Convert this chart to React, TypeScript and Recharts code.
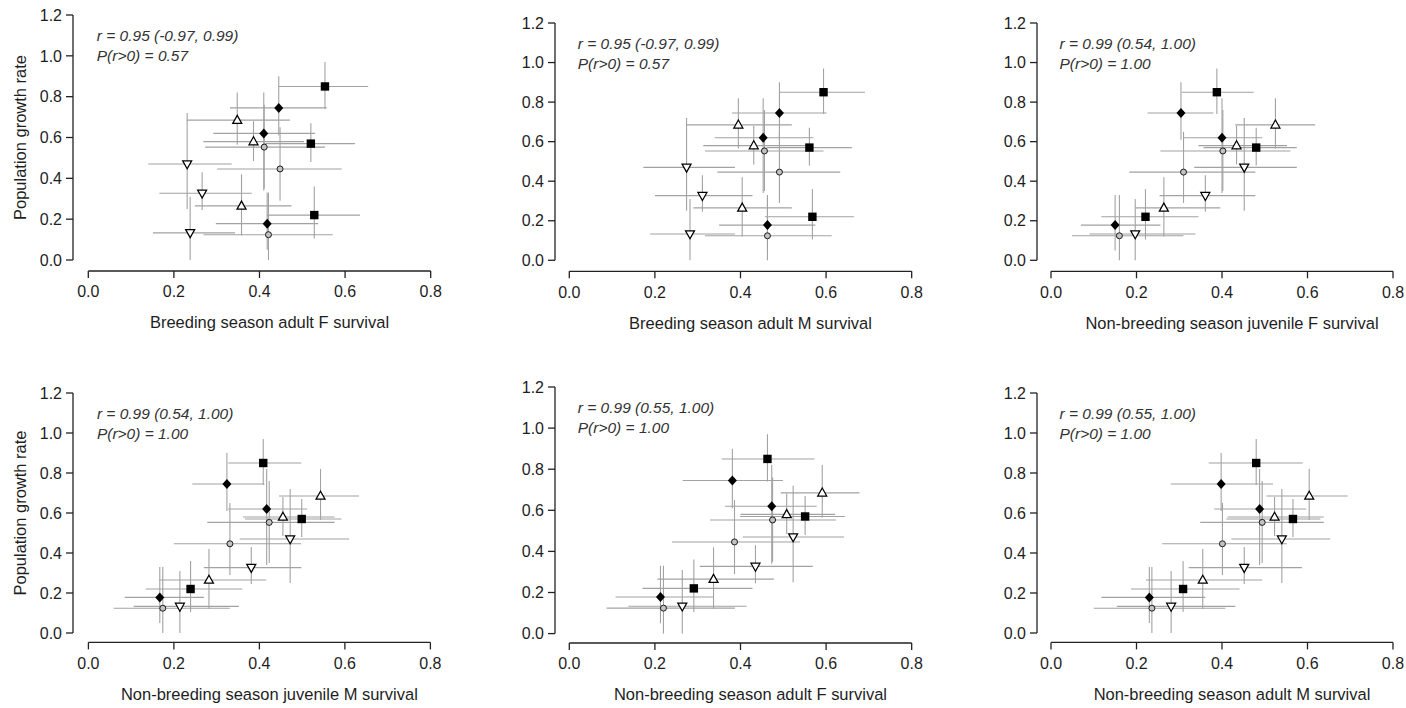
import React from "react";
import { ScatterChart, Scatter, XAxis, YAxis, ErrorBar, ReferenceLine, Label } from "recharts";

// Axis ticks
const xTicks = [0, 0.2, 0.4, 0.6, 0.8];
const yTicks = [0, 0.2, 0.4, 0.6, 0.8, 1.0, 1.2];

// Marker used for each group of three points (points are listed group by group)
const markerKinds = ["square", "diamond", "triangleUp", "triangleDown", "circle"];
const pointsPerGroup = 3;

// Population growth rate with credible interval (same for every panel)
const growthRate = [0.85, 0.57, 0.22, 0.745, 0.62, 0.178, 0.685, 0.58, 0.265, 0.47, 0.327, 0.133, 0.553, 0.446, 0.124];
const growthLow = [0.74, 0.48, 0.105, 0.61, 0.34, 0.05, 0.565, 0.485, 0.12, 0.25, 0.245, 0.0, 0.35, 0.29, 0.0];
const growthHigh = [0.97, 0.67, 0.36, 0.9, 0.82, 0.33, 0.82, 0.68, 0.42, 0.72, 0.43, 0.31, 0.76, 0.65, 0.33];

// Survival estimates with credible intervals, one set per panel
const breedAdultF = [0.553, 0.52, 0.528, 0.445, 0.41, 0.418, 0.348, 0.386, 0.358, 0.231, 0.266, 0.238, 0.411, 0.448, 0.421];
const breedAdultFLow = [0.444, 0.413, 0.417, 0.331, 0.292, 0.298, 0.23, 0.269, 0.249, 0.14, 0.166, 0.151, 0.273, 0.301, 0.269];
const breedAdultFHigh = [0.654, 0.623, 0.635, 0.557, 0.53, 0.537, 0.471, 0.504, 0.475, 0.335, 0.382, 0.343, 0.553, 0.592, 0.571];

const breedAdultM = [0.594, 0.561, 0.568, 0.491, 0.453, 0.463, 0.395, 0.431, 0.404, 0.274, 0.311, 0.282, 0.456, 0.491, 0.463];
const breedAdultMLow = [0.491, 0.461, 0.457, 0.38, 0.34, 0.35, 0.274, 0.313, 0.29, 0.173, 0.2, 0.189, 0.317, 0.346, 0.317];
const breedAdultMHigh = [0.691, 0.66, 0.665, 0.601, 0.57, 0.575, 0.52, 0.551, 0.52, 0.387, 0.428, 0.387, 0.594, 0.633, 0.613];

const nonBreedJuvF = [0.388, 0.48, 0.221, 0.304, 0.4, 0.15, 0.525, 0.434, 0.264, 0.452, 0.361, 0.197, 0.402, 0.31, 0.16];
const nonBreedJuvFLow = [0.306, 0.357, 0.118, 0.226, 0.31, 0.07, 0.431, 0.345, 0.197, 0.335, 0.254, 0.09, 0.256, 0.183, 0.049];
const nonBreedJuvFHigh = [0.474, 0.575, 0.345, 0.38, 0.494, 0.256, 0.618, 0.552, 0.396, 0.575, 0.478, 0.338, 0.56, 0.478, 0.31];

const nonBreedJuvM = [0.409, 0.499, 0.239, 0.324, 0.417, 0.167, 0.543, 0.455, 0.282, 0.472, 0.381, 0.214, 0.423, 0.331, 0.174];
const nonBreedJuvMLow = [0.327, 0.366, 0.134, 0.243, 0.327, 0.085, 0.446, 0.362, 0.165, 0.354, 0.27, 0.106, 0.278, 0.2, 0.059];
const nonBreedJuvMHigh = [0.498, 0.592, 0.36, 0.412, 0.512, 0.27, 0.633, 0.576, 0.416, 0.61, 0.498, 0.352, 0.576, 0.498, 0.331];

const nonBreedAdultF = [0.463, 0.551, 0.291, 0.381, 0.473, 0.213, 0.591, 0.508, 0.337, 0.523, 0.435, 0.264, 0.475, 0.386, 0.22];
const nonBreedAdultFLow = [0.356, 0.399, 0.171, 0.265, 0.364, 0.108, 0.494, 0.4, 0.206, 0.405, 0.305, 0.138, 0.329, 0.24, 0.087];
const nonBreedAdultFHigh = [0.573, 0.644, 0.428, 0.499, 0.578, 0.337, 0.678, 0.621, 0.478, 0.642, 0.569, 0.414, 0.623, 0.539, 0.387];

const nonBreedAdultM = [0.48, 0.566, 0.309, 0.398, 0.488, 0.23, 0.604, 0.523, 0.355, 0.54, 0.452, 0.281, 0.494, 0.401, 0.236];
const nonBreedAdultMLow = [0.369, 0.41, 0.187, 0.28, 0.382, 0.118, 0.504, 0.413, 0.222, 0.422, 0.322, 0.154, 0.349, 0.26, 0.1];
const nonBreedAdultMHigh = [0.589, 0.63, 0.441, 0.519, 0.597, 0.361, 0.694, 0.638, 0.494, 0.653, 0.587, 0.431, 0.638, 0.552, 0.408];

const survivalMid = [breedAdultF, breedAdultM, nonBreedJuvF, nonBreedJuvM, nonBreedAdultF, nonBreedAdultM];
const survivalLow = [breedAdultFLow, breedAdultMLow, nonBreedJuvFLow, nonBreedJuvMLow, nonBreedAdultFLow, nonBreedAdultMLow];
const survivalHigh = [breedAdultFHigh, breedAdultMHigh, nonBreedJuvFHigh, nonBreedJuvMHigh, nonBreedAdultFHigh, nonBreedAdultMHigh];

// Panel texts
const xLabels = [
  "Breeding season adult F survival",
  "Breeding season adult M survival",
  "Non-breeding season juvenile F survival",
  "Non-breeding season juvenile M survival",
  "Non-breeding season adult F survival",
  "Non-breeding season adult M survival",
];
const corrLines = [
  "r = 0.95 (-0.97, 0.99)",
  "r = 0.95 (-0.97, 0.99)",
  "r = 0.99 (0.54, 1.00)",
  "r = 0.99 (0.54, 1.00)",
  "r = 0.99 (0.55, 1.00)",
  "r = 0.99 (0.55, 1.00)",
];
const probLines = ["P(r>0) = 0.57", "P(r>0) = 0.57", "P(r>0) = 1.00", "P(r>0) = 1.00", "P(r>0) = 1.00", "P(r>0) = 1.00"];
const yLabel = "Population growth rate";

// Page geometry of each panel (pixels): y-axis line, x=0 and x=0.8 positions,
// y=1.2 and y=0 positions, x-axis line.
const panelBoxes = [
  { axisX: 73, x0: 88.3, x8: 430.7, top: 15, y0: 260, axisY: 271 },
  { axisX: 555, x0: 569.3, x8: 911.7, top: 22.7, y0: 260, axisY: 271 },
  { axisX: 1036.7, x0: 1050.7, x8: 1392.7, top: 22.7, y0: 260, axisY: 271 },
  { axisX: 73.3, x0: 88.7, x8: 430.7, top: 393.3, y0: 633.3, axisY: 642.7 },
  { axisX: 555, x0: 569.3, x8: 911.7, top: 386.7, y0: 633.3, axisY: 642.7 },
  { axisX: 1036.7, x0: 1050.7, x8: 1392.7, top: 393.3, y0: 633.3, axisY: 642.7 },
];

const FONT = '"Liberation Sans", Arial, Helvetica, sans-serif';
const Y_AXIS_W = 75;
const M_TOP = 12;
const M_RIGHT = 16;
const X_AXIS_H = 70;
const AXIS_COLOR = "#222";
const TEXT_COLOR = "#1e1e1e";
const NOTE_COLOR = "#333";
const BAR_COLOR = "#a2a2a2";

type Row = { x: number; y: number; ex: number[]; ey: number[]; kind: string };

const drawMarker = (kind: string) => (props: any) => {
  const { cx, cy } = props;
  if (cx == null || cy == null) return <g />;
  switch (kind) {
    case "square":
      return <rect x={cx - 4.2} y={cy - 4.2} width={8.4} height={8.4} fill="#000" />;
    case "diamond":
      return <polygon points={`${cx},${cy - 5} ${cx + 4.5},${cy} ${cx},${cy + 5} ${cx - 4.5},${cy}`} fill="#000" />;
    case "triangleUp":
      return (
        <polygon
          points={`${cx},${cy - 4.8} ${cx + 4.5},${cy + 3.2} ${cx - 4.5},${cy + 3.2}`}
          fill="#fff"
          stroke="#000"
          strokeWidth={1.25}
        />
      );
    case "triangleDown":
      return (
        <polygon
          points={`${cx - 4.5},${cy - 3.2} ${cx + 4.5},${cy - 3.2} ${cx},${cy + 4.8}`}
          fill="#fff"
          stroke="#000"
          strokeWidth={1.25}
        />
      );
    default:
      return <circle cx={cx} cy={cy} r={3} fill="#c2c2c2" stroke="#1a1a1a" strokeWidth={1} />;
  }
};

const noShape = () => <g />;

function Panel({ index }: { index: number }) {
  const box = panelBoxes[index];
  const mid = survivalMid[index];
  const low = survivalLow[index];
  const high = survivalHigh[index];

  const pxPerX = (box.x8 - box.x0) / 0.8;
  const pxPerY = (box.y0 - box.top) / 1.2;
  const xMin = -(box.x0 - box.axisX) / pxPerX;
  const yMin = -(box.axisY - box.y0) / pxPerY;

  const plotW = box.x8 - box.axisX;
  const plotH = box.axisY - box.top;
  const width = Y_AXIS_W + plotW + M_RIGHT;
  const height = M_TOP + plotH + X_AXIS_H;

  const rows: Row[] = growthRate.map((g, i) => ({
    x: mid[i],
    y: g,
    ex: [mid[i] - low[i], high[i] - mid[i]],
    ey: [g - growthLow[i], growthHigh[i] - g],
    kind: markerKinds[Math.floor(i / pointsPerGroup)],
  }));

  // chart-space positions for the texts
  const zeroX = Y_AXIS_W + (box.x0 - box.axisX);
  const xLabelX = zeroX + 0.4 * pxPerX + 10;
  const xLabelY = M_TOP + plotH + 57.5;
  const noteX = zeroX + 8.5;
  const noteY = M_TOP + 26;
  const yLabelX = Y_AXIS_W - 46.5;
  const yLabelY = M_TOP + 0.6 * pxPerY;
  const showYLabel = index % 3 === 0;

  const renderTexts = () => (
    <g>
      <text x={xLabelX} y={xLabelY} textAnchor="middle" fontSize={16.5} fill={TEXT_COLOR} fontFamily={FONT}>
        {xLabels[index]}
      </text>
      <text x={noteX} y={noteY} fontSize={15.5} fontStyle="italic" fill={NOTE_COLOR} fontFamily={FONT}>
        {corrLines[index]}
      </text>
      <text x={noteX} y={noteY + 20} fontSize={15.5} fontStyle="italic" fill={NOTE_COLOR} fontFamily={FONT}>
        {probLines[index]}
      </text>
      {showYLabel && (
        <text
          x={yLabelX}
          y={yLabelY}
          transform={`rotate(-90 ${yLabelX} ${yLabelY})`}
          textAnchor="middle"
          fontSize={16.5}
          fill={TEXT_COLOR}
          fontFamily={FONT}
        >
          {yLabel}
        </text>
      )}
    </g>
  );

  return (
    <div style={{ position: "absolute", left: box.axisX - Y_AXIS_W, top: box.top - M_TOP }}>
      <ScatterChart width={width} height={height} margin={{ top: M_TOP, right: M_RIGHT, bottom: 0, left: 0 }}>
        <XAxis
          type="number"
          dataKey="x"
          domain={[xMin, 0.8]}
          ticks={xTicks}
          interval={0}
          allowDataOverflow
          axisLine={false}
          tickLine={{ stroke: AXIS_COLOR, strokeWidth: 1.3 }}
          tickSize={7}
          tickMargin={8}
          height={X_AXIS_H}
          tick={{ fontSize: 16, fill: TEXT_COLOR, fontFamily: FONT }}
          tickFormatter={(v: number) => v.toFixed(1)}
        >
          <Label content={renderTexts} />
        </XAxis>
        <YAxis
          type="number"
          dataKey="y"
          domain={[yMin, 1.2]}
          ticks={yTicks}
          interval={0}
          allowDataOverflow
          axisLine={false}
          tickLine={{ stroke: AXIS_COLOR, strokeWidth: 1.3 }}
          tickSize={7}
          tickMargin={4}
          width={Y_AXIS_W}
          tick={{ fontSize: 16, fill: TEXT_COLOR, fontFamily: FONT }}
          tickFormatter={(v: number) => v.toFixed(1)}
        />
        <ReferenceLine
          segment={[
            { x: xTicks[0], y: yMin },
            { x: xTicks[xTicks.length - 1], y: yMin },
          ]}
          stroke={AXIS_COLOR}
          strokeWidth={1.3}
          ifOverflow="visible"
        />
        <ReferenceLine
          segment={[
            { x: xMin, y: yTicks[0] },
            { x: xMin, y: yTicks[yTicks.length - 1] },
          ]}
          stroke={AXIS_COLOR}
          strokeWidth={1.3}
          ifOverflow="visible"
        />
        <Scatter data={rows} shape={noShape} isAnimationActive={false}>
          <ErrorBar dataKey="ex" direction="x" width={0} stroke={BAR_COLOR} strokeWidth={1.1} isAnimationActive={false} />
          <ErrorBar dataKey="ey" direction="y" width={0} stroke={BAR_COLOR} strokeWidth={1.1} isAnimationActive={false} />
        </Scatter>
        {markerKinds.map((k) => (
          <Scatter
            key={k}
            data={rows.filter((r) => r.kind === k)}
            shape={drawMarker(k)}
            isAnimationActive={false}
          />
        ))}
      </ScatterChart>
    </div>
  );
}

export default function App() {
  return (
    <div
      style={{
        position: "absolute",
        left: 0,
        top: 0,
        width: 1406,
        height: 708,
        overflow: "hidden",
        background: "#fff",
        fontFamily: FONT,
      }}
    >
      {panelBoxes.map((_, i) => (
        <Panel key={i} index={i} />
      ))}
    </div>
  );
}
